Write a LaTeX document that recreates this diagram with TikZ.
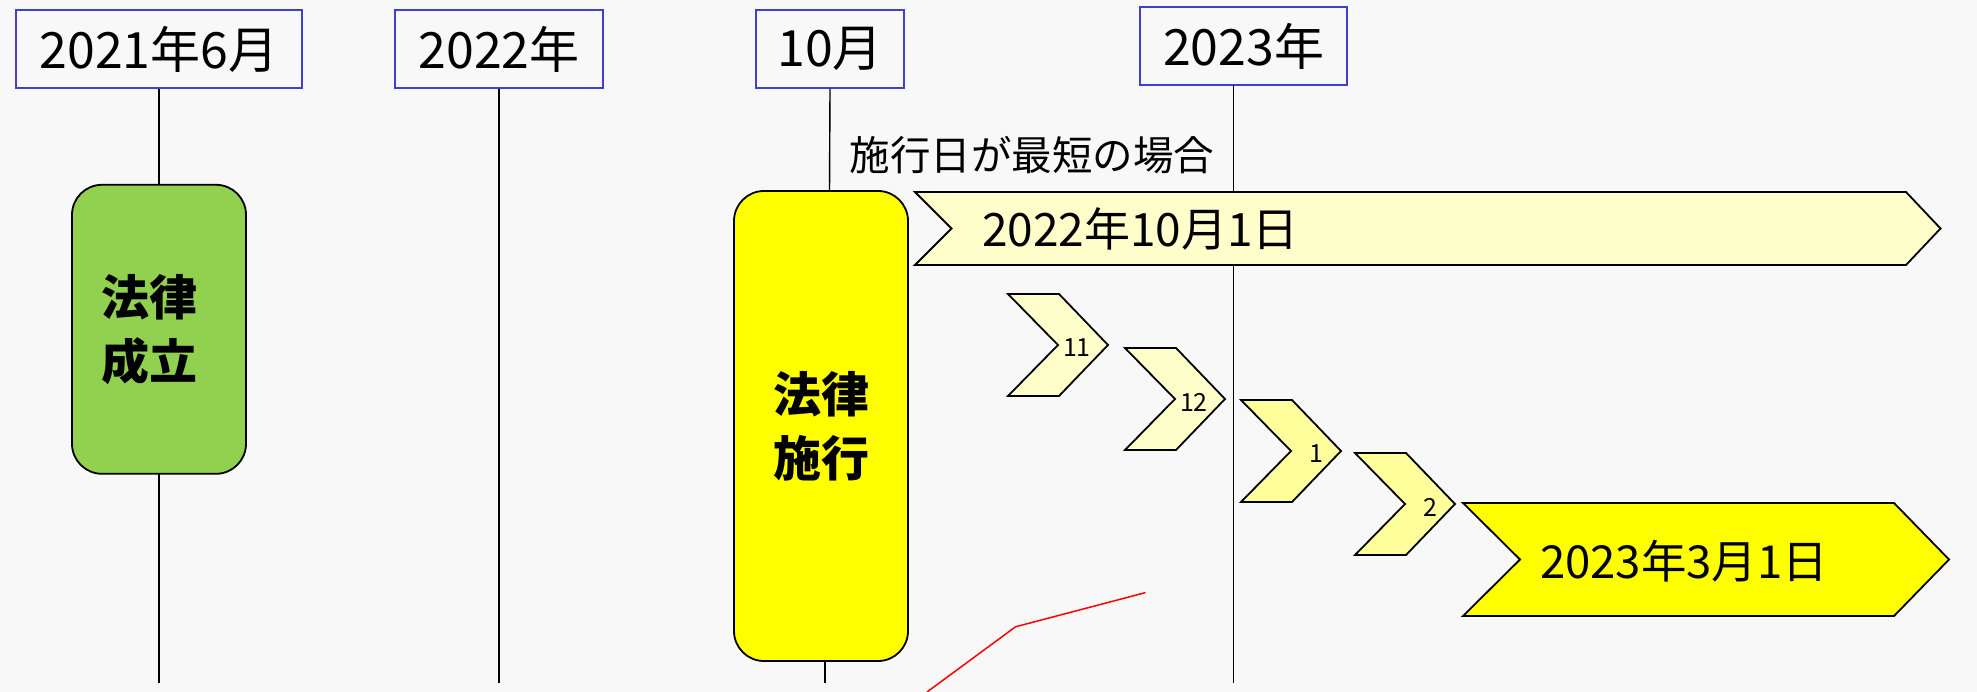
\documentclass[tikz,border=0pt]{standalone}
\usepackage{fontspec}
\setmainfont{Noto Sans CJK JP}
\definecolor{bg}{HTML}{F8F8F8}
\definecolor{lblblue}{HTML}{4040D0}
\definecolor{lawgreen}{HTML}{92D050}
\definecolor{pureyel}{HTML}{FFFF00}
\definecolor{paleyel}{HTML}{FFFFCC}
\definecolor{midyel}{HTML}{FFFF9C}
\tikzset{
  datebox/.style={draw=lblblue, line width=2pt, fill=bg, inner sep=0pt, font=\fontsize{50}{54}\selectfont},
  tline/.style={draw=black, line width=1.4pt},
  lawbox/.style={draw=black, line width=1.8pt, rounded corners=30pt, inner sep=0pt},
  lawtext/.style={inner sep=0pt, align=center, font=\fontsize{48}{64}\selectfont\bfseries},
  arrowshape/.style={draw=black, line width=1.8pt, line join=miter},
  bigtext/.style={font=\fontsize{46}{50}\selectfont, inner sep=0pt, anchor=west},
  numtext/.style={font=\fontsize{25}{27}\selectfont, inner sep=0pt, anchor=east},
}
\begin{document}
\begin{tikzpicture}[x=1pt,y=-1pt]
\fill[bg] (0,0) rectangle (1977,692);
\useasboundingbox (0,0) rectangle (1977,692);
% timeline labels
\node[datebox, minimum width=285.5pt, minimum height=78pt] (d1) at (159,49) {2021年6月};
\node[datebox, minimum width=207.5pt, minimum height=78pt] (d2) at (499,49) {2022年};
\node[datebox, minimum width=148pt, minimum height=78pt] (d3) at (830,49) {10月};
\node[datebox, minimum width=207pt, minimum height=78pt] (d4) at (1243.5,46.3) {2023年};
% bottom ends
\coordinate (e1) at (159,683);
\coordinate (e2) at (499,683);
\coordinate (e3top) at (829.5,190.8);
\coordinate (e3a) at (825,661);
\coordinate (e3b) at (825,683);
\coordinate (e4a) at (1233.5,85.3);
\coordinate (e4) at (1233.5,683);
% vertical lines
\draw[tline] (d1.south) -- (e1);
\draw[tline] (d2.south) -- (e2);
\draw[tline] (d3.south) -- (e3top);
\draw[tline] (e3a) -- (e3b);
\draw[tline] (e4a) -- (e4);
% law boxes
\node[lawbox, fill=lawgreen, minimum width=174pt, minimum height=289pt] (seiritsu) at (159,329.3) {};
\node[lawtext] (seiritsuT) at ([xshift=-9.5pt]seiritsu.center) {法律\\成立};
\node[lawbox, fill=pureyel, minimum width=174pt, minimum height=470pt] (shiko) at (821,426) {};
\node[lawtext] (shikoT) at (shiko.center) {法律\\施行};
% caption
\node[font=\fontsize{40.5}{44}\selectfont, inner sep=0pt, anchor=west] (cap) at (849.5,155) {施行日が最短の場合};
% long arrow
\filldraw[arrowshape, fill=paleyel] (915,192) -- (1906,192) -- (1940.5,228.5) -- (1906,265) -- (915,265) -- (951.5,228.5) -- cycle;
\node[bigtext] (t1) at (982,229) {2022年10月1日};
% chevrons
\foreach \x/\t/\n/\c in {1008/294/11/paleyel, 1125/348/12/paleyel, 1241/400/1/midyel, 1355/453/2/midyel}{
  \filldraw[arrowshape, fill=\c] (\x,\t) -- ++(51,0) -- ++(49,51) -- ++(-49,51) -- ++(-51,0) -- ++(50,-51) -- cycle;
  \node[numtext] (m\n) at (\x+83,\t+54) {\n};
}
% big arrow
\filldraw[arrowshape, fill=pureyel] (1463,503) -- (1894,503) -- (1949,559.5) -- (1894,616) -- (1463,616) -- (1520,559.5) -- cycle;
\node[bigtext, font=\fontsize{45.5}{50}\selectfont] (t2) at (1540,561) {2023年3月1日};
% red line
\coordinate (r1) at (1145.5,592.6);
\coordinate (r2) at (1015.5,626.8);
\coordinate (r3) at (927,692);
\draw[red, line width=1.5pt] (r1) -- (r2) -- (r3);
\end{tikzpicture}
\end{document}
